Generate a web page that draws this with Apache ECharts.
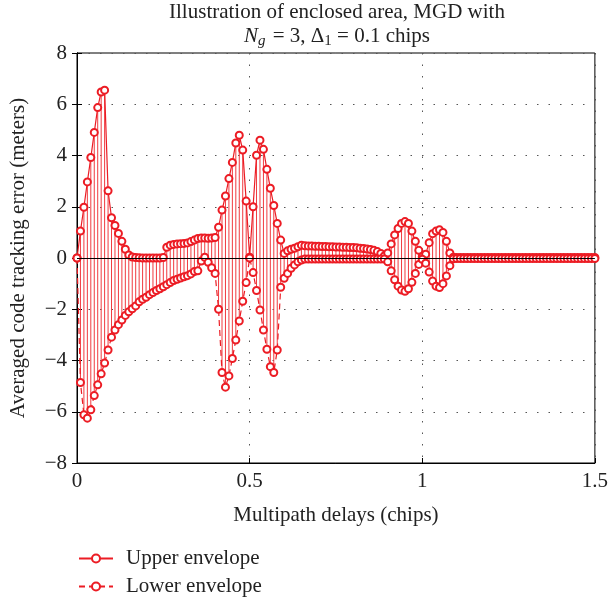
<!DOCTYPE html>
<html>
<head>
<meta charset="utf-8">
<title>Illustration of enclosed area, MGD</title>
<script src="https://cdn.jsdelivr.net/npm/echarts@6/dist/echarts.min.js"></script>
<style>
  html, body { margin: 0; padding: 0; background: #fff; }
  #main { width: 611px; height: 602px; }
</style>
</head>
<body>
<div id="main"></div>
<script>
// multipath delay grid, 0 .. 1.5 chips at 0.01 steps
var delays = [];
for (var i = 0; i <= 150; i++) delays.push(+(i / 100).toFixed(2));

var upper = [
  0, 1.05, 1.98, 2.97, 3.92, 4.9, 5.87, 6.48, 6.55, 2.62,
  1.57, 1.27, 0.96, 0.65, 0.34, 0.12, 0.04, 0.02, 0.01, 0,
  0, 0, 0, 0, 0, 0.02, 0.42, 0.5, 0.53, 0.55,
  0.56, 0.57, 0.59, 0.64, 0.7, 0.76, 0.78, 0.78, 0.77, 0.78,
  0.8, 1.2, 1.87, 2.42, 3.1, 3.73, 4.49, 4.79, 4.21, 2.22,
  0.03, 2.0, 4.01, 4.6, 4.24, 3.46, 2.72, 2.05, 1.35, 0.7,
  0.18, 0.28, 0.34, 0.38, 0.44, 0.5, 0.48, 0.47, 0.47, 0.46,
  0.46, 0.45, 0.45, 0.44, 0.44, 0.43, 0.43, 0.42, 0.42, 0.41,
  0.41, 0.4, 0.38, 0.37, 0.35, 0.33, 0.3, 0.25, 0.18, 0.08,
  0.2, 0.55, 0.9, 1.15, 1.35, 1.42, 1.35, 1.05, 0.65, 0.3,
  0.05, 0.15, 0.6, 0.95, 1.05, 1.1, 1.0, 0.65, 0.2, 0.03,
  0.02, 0.02, 0.02, 0.02, 0.02, 0.02, 0.02, 0.02, 0.02, 0.02,
  0.02, 0.02, 0.02, 0.02, 0.02, 0.02, 0.02, 0.02, 0.02, 0.02,
  0.02, 0.02, 0.02, 0.02, 0.02, 0.02, 0.02, 0.02, 0.02, 0.02,
  0.02, 0.02, 0.02, 0.02, 0.02, 0.02, 0.02, 0.02, 0.02, 0.02,
  0.02
];

var lower = [
  0, -4.86, -6.12, -6.25, -5.92, -5.37, -4.95, -4.52, -4.1, -3.59,
  -3.09, -2.81, -2.6, -2.42, -2.24, -2.1, -1.98, -1.87, -1.71, -1.61,
  -1.53, -1.43, -1.35, -1.27, -1.2, -1.12, -1.04, -0.96, -0.88, -0.83,
  -0.78, -0.73, -0.69, -0.62, -0.53, -0.5, -0.12, 0.03, -0.17, -0.38,
  -0.6, -2.0, -4.47, -5.04, -4.6, -3.92, -3.2, -2.46, -1.69, -0.96,
  0, -0.57, -1.27, -2.03, -2.81, -3.56, -4.24, -4.47, -3.59, -1.14,
  -0.79, -0.6, -0.4, -0.27, -0.15, -0.08, -0.04, -0.04, -0.04, -0.04,
  -0.04, -0.04, -0.04, -0.04, -0.04, -0.04, -0.04, -0.04, -0.04, -0.04,
  -0.04, -0.04, -0.04, -0.04, -0.04, -0.04, -0.04, -0.04, -0.04, -0.04,
  -0.15, -0.5, -0.85, -1.1, -1.25, -1.3, -1.2, -0.95, -0.6, -0.25,
  -0.05, -0.2, -0.55, -0.9, -1.1, -1.15, -1.0, -0.7, -0.3, -0.03,
  -0.02, -0.02, -0.02, -0.02, -0.02, -0.02, -0.02, -0.02, -0.02, -0.02,
  -0.02, -0.02, -0.02, -0.02, -0.02, -0.02, -0.02, -0.02, -0.02, -0.02,
  -0.02, -0.02, -0.02, -0.02, -0.02, -0.02, -0.02, -0.02, -0.02, -0.02,
  -0.02, -0.02, -0.02, -0.02, -0.02, -0.02, -0.02, -0.02, -0.02, -0.02,
  -0.02
];

var upperData = [], lowerData = [], stemData = [];
for (var i = 0; i < delays.length; i++) {
    upperData.push([delays[i], upper[i]]);
    lowerData.push([delays[i], lower[i]]);
    stemData.push([delays[i], upper[i], lower[i]]);
}

var RED = '#ec1c24';
var FONT = '"Liberation Serif", "DejaVu Serif", serif';
var FS = 21;

function fmtTick(v) {
    return String(v).replace('-', '\u2212');
}

var gridLine = { show: true, lineStyle: { color: '#555', width: 1, type: [1.5, 10] } };

var option = {
    animation: false,
    backgroundColor: '#fff',
    title: {
        text: 'Illustration of enclosed area, MGD with\n{i|N}{si|g}{t| = 3, \u0394}{s|1}{t| = 0.1 chips}',
        left: 337,
        textAlign: 'center',
        top: 0,
        padding: 0,
        textStyle: {
            fontFamily: FONT, fontSize: FS, fontWeight: 'normal', color: '#222', lineHeight: 24,
            rich: {
                i: { fontFamily: FONT, fontSize: FS, fontStyle: 'italic', color: '#222', lineHeight: 24 },
                t: { fontFamily: FONT, fontSize: FS, color: '#222', lineHeight: 24 },
                s: { fontFamily: FONT, fontSize: 15, color: '#222', lineHeight: 24, padding: [10, 0, 0, 0] },
                si: { fontFamily: FONT, fontSize: 15, fontStyle: 'italic', color: '#222', lineHeight: 24, padding: [10, 2, 0, 0] }
            }
        }
    },
    legend: {
        orient: 'vertical',
        left: 78,
        top: 548,
        padding: 0,
        itemWidth: 34,
        itemHeight: 10,
        itemGap: 7,
        data: ['Upper envelope', 'Lower envelope'],
        textStyle: { fontFamily: FONT, fontSize: FS, color: '#222', padding: [0, 0, 0, 8] }
    },
    grid: { left: 77, right: 11, top: 53, bottom: 139, show: true, borderColor: '#000', borderWidth: 1 },
    xAxis: [{
        type: 'value', min: 0, max: 1.5, interval: 0.5,
        name: 'Multipath delays (chips)', nameLocation: 'middle', nameGap: 42,
        nameTextStyle: { fontFamily: FONT, fontSize: FS, color: '#222' },
        axisLine: { show: true, onZero: false, lineStyle: { color: '#000' } },
        axisTick: { show: true, inside: true, length: 5, lineStyle: { color: '#000' } },
        axisLabel: { fontFamily: FONT, fontSize: FS, color: '#222', margin: 8, formatter: fmtTick },
        splitLine: gridLine
    }, {
        type: 'value', min: 0, max: 1.5, interval: 0.5, position: 'top',
        axisLine: { show: true, lineStyle: { color: '#000' } },
        axisTick: { show: true, inside: true, length: 5, lineStyle: { color: '#000' } },
        axisLabel: { show: false }, splitLine: { show: false }
    }],
    yAxis: [{
        type: 'value', min: -8, max: 8, interval: 2,
        name: 'Averaged code tracking error (meters)', nameLocation: 'middle', nameGap: 48,
        nameTextStyle: { fontFamily: FONT, fontSize: FS, color: '#222' },
        axisLine: { show: true, onZero: false, lineStyle: { color: '#000' } },
        axisTick: { show: true, inside: true, length: 5, lineStyle: { color: '#000' } },
        axisLabel: { fontFamily: FONT, fontSize: FS, color: '#222', margin: 10, formatter: fmtTick },
        splitLine: gridLine
    }, {
        type: 'value', min: -8, max: 8, interval: 2, position: 'right',
        axisLine: { show: true, lineStyle: { color: '#000' } },
        axisTick: { show: true, inside: true, length: 5, lineStyle: { color: '#000' } },
        axisLabel: { show: false }, splitLine: { show: false }
    }],
    series: [{
        name: 'stems',
        type: 'custom',
        silent: true,
        data: stemData,
        encode: { x: 0, y: [1, 2] },
        renderItem: function (params, api) {
            var x = api.value(0);
            var p1 = api.coord([x, api.value(1)]);
            var p2 = api.coord([x, api.value(2)]);
            return {
                type: 'line',
                shape: { x1: p1[0], y1: p1[1], x2: p2[0], y2: p2[1] },
                style: { stroke: '#f03a3f', lineWidth: 1 }
            };
        },
        markLine: {
            silent: true, symbol: 'none', label: { show: false },
            lineStyle: { color: '#000', width: 1.2, type: 'solid' },
            data: [{ yAxis: 0 }]
        }
    }, {
        name: 'Upper envelope',
        type: 'line',
        data: upperData,
        symbol: 'emptyCircle',
        symbolSize: 7,
        showAllSymbol: true,
        itemStyle: { color: RED, borderColor: RED, borderWidth: 1.2 },
        lineStyle: { color: RED, width: 1.2 }
    }, {
        name: 'Lower envelope',
        type: 'line',
        data: lowerData,
        symbol: 'emptyCircle',
        symbolSize: 7,
        showAllSymbol: true,
        itemStyle: { color: RED, borderColor: RED, borderWidth: 1.2 },
        lineStyle: { color: RED, width: 1.2, type: [6, 4] }
    }]
};

var myChart = echarts.init(document.getElementById('main'));
myChart.setOption(option);
</script>
</body>
</html>
